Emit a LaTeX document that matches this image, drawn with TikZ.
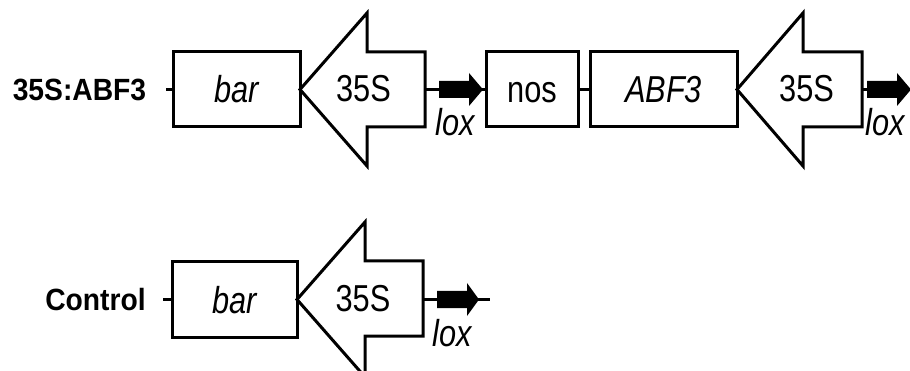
\documentclass[tikz,border=0pt]{standalone}
\usepackage{fontspec}
\setmainfont{Liberation Sans}
\newfontfamily\narrowfont[FakeStretch=0.82]{Liberation Sans}
\newfontfamily\lblfont[FakeStretch=0.92]{Liberation Sans}
\begin{document}
\begin{tikzpicture}[x=1pt,y=-1pt,
  line width=3pt,
  genebox/.style={draw, line width=3pt, inner sep=0pt, minimum height=75pt,
    text height=27pt, text depth=0pt, font=\narrowfont\fontsize{37.5}{40}\selectfont},
  intext/.style={inner sep=0pt, anchor=base, font=\narrowfont\fontsize{37.5}{40}\selectfont},
  loxtext/.style={inner sep=0pt, anchor=base, font=\narrowfont\itshape\fontsize{37.5}{40}\selectfont},
  rowlabel/.style={inner sep=0pt, anchor=base, font=\lblfont\bfseries\fontsize{30.7}{33}\selectfont},
  promoter/.style={draw, line width=3pt, fill=white, line join=miter},
  loxarrow/.style={fill=black, draw=none}
]
\useasboundingbox (0,0) rectangle (910,371);

%% ---------- Row 1: 35S:ABF3 ----------
\node[rowlabel] (lab1) at (79.5,101) {35S:ABF3};
\node[genebox, minimum width=127pt] (bar1) at (236.5,89.5) {\itshape bar};
\coordinate (stub1) at (166,89.5);
\draw (stub1) -- (bar1.west);

% promoter 35S (pointing left)
\coordinate (p1tip) at (300,89.5);
\coordinate (p1r) at (425,89.5);
\draw[promoter] (p1tip) -- (367,13) -- (367,52) -- (425,52) -- (425,127) -- (367,127) -- (367,166) -- cycle;
\node[intext] (p1txt) at (363.5,102) {35S};

\node[genebox, minimum width=92pt] (nos) at (532,89.5) {nos};
\node[genebox, minimum width=147pt] (abf) at (663.5,89.5) {\itshape ABF3};
\draw (p1r) -- (nos.west);
\draw (nos.east) -- (abf.west);

% lox 1
\fill[loxarrow] (439,81) -- (469,81) -- (469,73) -- (483,89.5) -- (469,106) -- (469,98) -- (439,98) -- cycle;
\node[loxtext] (lox1) at (455,136) {lox};

% promoter 35S (second)
\coordinate (p2tip) at (737,89.5);
\coordinate (p2r) at (862,89.5);
\draw[promoter] (p2tip) -- (803,13) -- (803,52) -- (862,52) -- (862,127) -- (803,127) -- (803,166) -- cycle;
\node[intext] (p2txt) at (806.5,102) {35S};
\coordinate (end1) at (920,89.5);
\draw (p2r) -- (end1);

% lox 2
\fill[loxarrow] (867,81) -- (897,81) -- (897,73) -- (911,89.5) -- (897,106) -- (897,98) -- (867,98) -- cycle;
\node[loxtext] (lox2) at (885,136) {lox};

%% ---------- Row 2: Control ----------
\node[rowlabel] (lab2) at (95.5,311) {Control};
\node[genebox, minimum width=125pt] (bar2) at (234.5,299.5) {\itshape bar};
\coordinate (stub2) at (163,299.5);
\draw (stub2) -- (bar2.west);

\coordinate (p3tip) at (297,299.5);
\coordinate (p3r) at (423,299.5);
\draw[promoter] (p3tip) -- (365,222) -- (365,261) -- (423,261) -- (423,336) -- (365,336) -- (365,377) -- cycle;
\node[intext] (p3txt) at (363,312) {35S};
\coordinate (end2) at (490,299.5);
\draw (p3r) -- (end2);

% lox 3
\fill[loxarrow] (437,291) -- (467,291) -- (467,283) -- (479,299.5) -- (467,316) -- (467,308) -- (437,308) -- cycle;
\node[loxtext] (lox3) at (452,346) {lox};
\end{tikzpicture}
\end{document}
